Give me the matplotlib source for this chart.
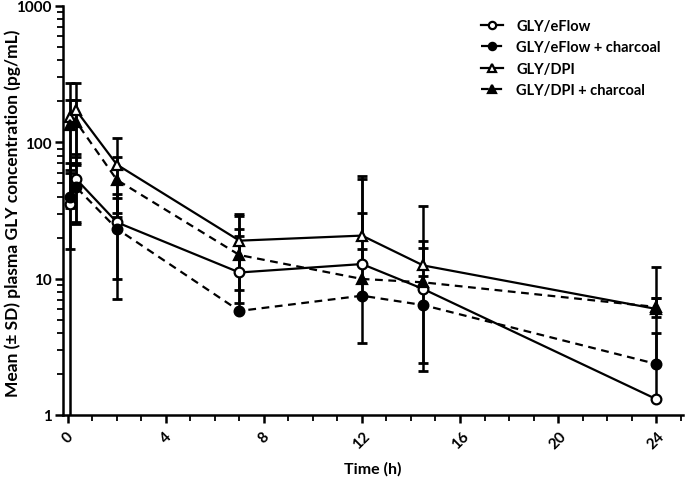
import numpy as np
import matplotlib
matplotlib.use("Agg")
import matplotlib.pyplot as plt
from matplotlib.ticker import MultipleLocator, LogLocator, NullFormatter, FixedLocator

plt.rcParams['font.family'] = ['Lato', 'DejaVu Sans']
plt.rcParams['font.weight'] = 'bold'

# sampling times (h)
times = [0.083, 0.333, 2, 7, 12, 14.5, 24]

# mean plasma GLY (pg/mL) and SD for each treatment
eflow_mean = [35.3, 53.9, 25.9, 11.1, 12.8, 8.4, 1.31]
eflow_sd = [35.0, 28.7, 15.9, 17.9, 41.1, 10.6, 2.67]
eflow_ch_mean = [39.5, 46.9, 23.2, 5.8, 7.5, 6.4, 2.37]
eflow_ch_sd = [23.0, 21.0, 16.1, 14.7, 22.7, 4.0, 4.83]
dpi_mean = [153, 172, 68.6, 19.0, 20.7, 12.5, 6.0]
dpi_sd = [120, 101, 38.4, 10.8, 36.3, 21.8, 6.1]
dpi_ch_mean = [133, 141.8, 53, 14.9, 9.95, 9.4, 6.2]
dpi_ch_sd = [73, 64, 24.8, 8.3, 6.6, 7.3, 1.0]

labels = ['GLY/eFlow', 'GLY/eFlow + charcoal', 'GLY/DPI', 'GLY/DPI + charcoal']
series = [(eflow_mean, eflow_sd, 'o', 'white', '-'),
          (eflow_ch_mean, eflow_ch_sd, 'o', 'black', (0, (3.5, 2.5))),
          (dpi_mean, dpi_sd, '^', 'white', '-'),
          (dpi_ch_mean, dpi_ch_sd, '^', 'black', (0, (3.5, 2.5)))]

fig = plt.figure(figsize=(6.85, 4.89), dpi=100)
ax = fig.add_axes([63 / 685, 1 - 416 / 489, 620 / 685, 409 / 489])

t = np.array(times)
for (mean, sd, marker, face, ls), label in zip(series, labels):
    m = np.array(mean)
    s = np.array(sd)
    lower = m - s
    # upper half of the SD bar
    ax.vlines(t, m, m + s, color='black', lw=1.8, zorder=2)
    ax.plot(t, m + s, ls='none', marker='_', ms=7, mew=2, color='black', zorder=2)
    # lower half only where mean - SD stays positive (log axis)
    ok = lower > 0
    ax.vlines(t[ok], lower[ok], m[ok], color='black', lw=1.8, zorder=2)
    ax.plot(t[ok], lower[ok], ls='none', marker='_', ms=7, mew=2, color='black', zorder=2)
    ax.plot(t, m, ls=ls, lw=1.6, color='black', marker=marker, ms=7 if marker == 'o' else 7.5,
            mfc=face, mec='black', mew=1.6, label=label, zorder=3)

ax.set_yscale('log')
ax.set_ylim(1, 1000)
ax.set_xlim(-0.2, 25.1)
ax.xaxis.set_major_locator(FixedLocator([0, 4, 8, 12, 16, 20, 24]))
ax.xaxis.set_minor_locator(MultipleLocator(1))
ax.yaxis.set_minor_locator(LogLocator(base=10, subs=np.arange(2, 10)))
ax.yaxis.set_minor_formatter(NullFormatter())
ax.set_yticks([1, 10, 100, 1000])
ax.set_yticklabels(['1', '10', '100', '1000'])

for side in ['top', 'right']:
    ax.spines[side].set_visible(False)
for side in ['left', 'bottom']:
    ax.spines[side].set_linewidth(1.8)

ax.tick_params(which='major', direction='out', length=6, width=1.8, labelsize=11)
ax.tick_params(which='minor', direction='out', length=4, width=1.3)
ax.tick_params(axis='x', which='major', pad=4)
ax.tick_params(axis='y', which='major', pad=2)
for lab in ax.get_xticklabels():
    lab.set_rotation(45)
    lab.set_ha('center')
    lab.set_va('top')
    lab.set_fontweight('bold')
for lab in ax.get_yticklabels():
    lab.set_fontweight('bold')

fig.text(373 / 685, 1 - 469 / 489, 'Time (h)', fontsize=11.5, fontweight='bold',
         ha='center', va='center')
fig.text(13 / 685, 1 - 213 / 489, 'Mean (± SD) plasma GLY concentration (pg/mL)',
         fontsize=12.5, fontweight='bold', rotation=90, ha='center', va='center')

leg = ax.legend(loc='upper right', bbox_to_anchor=(0.985, 1.0), frameon=False,
                handlelength=1.5, handletextpad=0.9, labelspacing=0.5, markerscale=0.75,
                prop={'weight': 'bold', 'size': 10.5})

fig.savefig('out.png', dpi=100)
